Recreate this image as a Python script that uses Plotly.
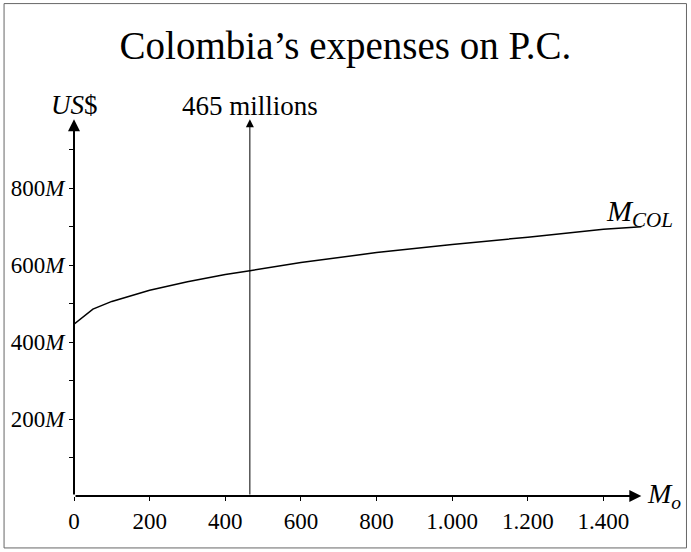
import plotly.graph_objects as go

# Data
x_vals = [0, 50, 100, 200, 300, 400, 465, 600, 800, 1000, 1200, 1400, 1500]
y_vals = [447, 486, 506, 535, 557, 576, 586, 607, 633, 654, 673, 694, 700]
marker_x = 465
marker_label = "465 millions"
x_tickvals = [0, 200, 400, 600, 800, 1000, 1200, 1400]
x_ticktext = ["0", "200", "400", "600", "800", "1.000", "1.200", "1.400"]
y_tickvals = [200, 400, 600, 800]
y_ticktext = ["200<i>M</i>", "400<i>M</i>", "600<i>M</i>", "800<i>M</i>"]
y_minor_tickvals = [100, 300, 500, 700, 900]
title_text = "Colombia’s expenses on P.C."

W, H = 691, 552
ML, MR, MT, MB = 74, 26.5, 72.5, 56
X_RANGE = [0, 1560]
Y_RANGE = [0, 1100]
FONT = "Liberation Serif"

fig = go.Figure()
fig.add_trace(go.Scatter(x=x_vals, y=y_vals, mode="lines",
                         line=dict(color="black", width=1.5), showlegend=False,
                         hoverinfo="skip"))

pw = W - ML - MR
ph = H - MT - MB

def px_to_paper_x(px):
    return (px - ML) / pw

def px_to_paper_y(py):
    return (H - MB - py) / ph

ann = []
# axes arrows
ann.append(dict(x=1500, y=0, ax=0, ay=0, xref="x", yref="y", axref="x", ayref="y",
                showarrow=True, arrowhead=2, arrowsize=1.2, arrowwidth=2, arrowcolor="black", text=""))
ann.append(dict(x=0, y=980, ax=0, ay=0, xref="x", yref="y", axref="x", ayref="y",
                showarrow=True, arrowhead=2, arrowsize=1.2, arrowwidth=2, arrowcolor="black", text=""))
# vertical marker arrow
ann.append(dict(x=marker_x, y=980, ax=marker_x, ay=0, xref="x", yref="y", axref="x", ayref="y",
                showarrow=True, arrowhead=2, arrowsize=1.6, arrowwidth=1, arrowcolor="black", text=""))
ann.append(dict(x=marker_x, y=1015, xref="x", yref="y", text=marker_label, showarrow=False,
                font=dict(family=FONT, size=27, color="black")))
ann.append(dict(x=0, y=1018, xref="x", yref="y", text="<i>US</i>$", showarrow=False,
                font=dict(family=FONT, size=27, color="black")))
ann.append(dict(x=1510, y=2, xref="x", yref="y", text="<i>M<sub>o</sub></i>", showarrow=False,
                xanchor="left", font=dict(family=FONT, size=28, color="black")))
ann.append(dict(x=1495, y=735, xref="x", yref="y", text="<i>M<sub>COL</sub></i>", showarrow=False,
                font=dict(family=FONT, size=30, color="black")))

fig.update_layout(
    width=W, height=H,
    margin=dict(l=ML, r=MR, t=MT, b=MB),
    paper_bgcolor="white", plot_bgcolor="white",
    title=dict(text=title_text, x=0.5, xanchor="center", y=1 - 45 / H, yanchor="middle",
               yref="container", font=dict(family=FONT, size=39, color="black")),
    xaxis=dict(range=X_RANGE, showgrid=False, zeroline=False, showline=False,
               tickvals=x_tickvals, ticktext=x_ticktext, ticks="outside", ticklen=4,
               tickcolor="black", tickfont=dict(family=FONT, size=23, color="black")),
    yaxis=dict(range=Y_RANGE, showgrid=False, zeroline=False, showline=False,
               tickvals=y_tickvals, ticktext=y_ticktext, ticks="outside", ticklen=4,
               tickcolor="black", ticklabelstandoff=0,
               tickfont=dict(family=FONT, size=23, color="black"),
               minor=dict(tickvals=y_minor_tickvals, ticks="outside", ticklen=4,
                          tickcolor="black", showgrid=False)),
    annotations=ann,
    shapes=[dict(type="rect", xref="paper", yref="paper",
                 x0=px_to_paper_x(4), x1=px_to_paper_x(687),
                 y0=px_to_paper_y(548), y1=px_to_paper_y(3),
                 line=dict(color="#666666", width=1), fillcolor="rgba(0,0,0,0)", layer="below")],
)

fig.write_html("out.html", config={"displayModeBar": False},
               post_script="document.body.style.margin='0px';")
